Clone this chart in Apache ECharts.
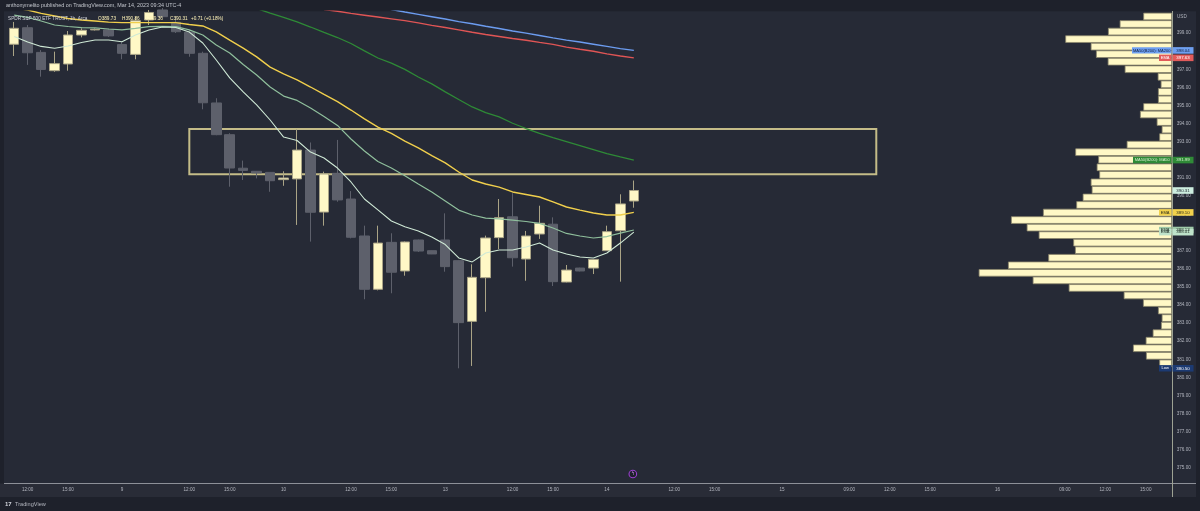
<!DOCTYPE html>
<html lang="en">
<head>
<meta charset="UTF-8">
<title>SPY 1h</title>
<script src="https://cdn.jsdelivr.net/npm/echarts@6/dist/echarts.min.js"></script>
<style>
  html, body { margin: 0; padding: 0; background: #1e212b; }
  #main { width: 1200px; height: 511px; }
</style>
</head>
<body>
<div id="main"></div>
<script>
// time slots on the x axis (1h bars, plus empty future space)
var slotCount = 86;
var tickSlots = [1, 4, 8, 13, 16, 20, 25, 28, 32, 37, 40, 44, 49, 52, 57, 62, 65, 68, 73, 78, 81, 84];
var tickTexts = ['12:00', '15:00', '9', '12:00', '15:00', '10', '12:00', '15:00', '13', '12:00', '15:00',
                 '14', '12:00', '15:00', '15', '09:00', '12:00', '15:00', '16', '09:00', '12:00', '15:00'];
var priceTicks = [375, 376, 377, 378, 379, 380, 381, 382, 383, 384, 385, 386, 387, 388, 389, 390,
                  391, 392, 393, 394, 395, 396, 397, 398, 399];

// SPY 1h candles
var open  = [398.38, 399.29, 397.93, 396.92, 397.29, 398.89, 399.17, 399.17, 398.36, 397.82, 399.72, 400.27,
             399.59, 399.05, 397.88, 395.14, 393.39, 391.54, 391.37, 391.31, 390.91, 390.95, 392.54, 389.12,
             391.26, 389.84, 387.80, 384.86, 387.45, 385.87, 387.58, 386.99, 387.58, 386.44, 383.09, 385.50,
             387.71, 388.86, 386.53, 387.91, 388.45, 385.26, 386.03, 386.03, 386.99, 388.09, 389.73];
var high  = [399.61, 399.44, 398.06, 397.97, 399.11, 399.26, 399.25, 399.25, 398.52, 399.90, 400.27, 400.38,
             399.94, 399.17, 397.97, 395.40, 393.47, 391.96, 391.37, 391.31, 391.37, 393.70, 392.96, 391.35,
             393.10, 390.28, 388.37, 388.37, 387.95, 387.50, 387.60, 387.00, 389.05, 386.46, 386.24, 387.82,
             389.84, 390.16, 388.08, 389.47, 388.83, 386.20, 386.05, 386.52, 388.37, 390.10, 390.86];
var low   = [397.73, 397.24, 396.59, 396.86, 396.92, 398.76, 399.14, 398.78, 397.55, 397.55, 399.44, 399.83,
             399.00, 397.69, 394.79, 393.36, 390.52, 390.89, 390.98, 390.24, 390.57, 388.41, 387.49, 388.37,
             389.69, 387.67, 384.31, 384.80, 384.64, 385.61, 386.92, 386.80, 385.83, 380.50, 380.63, 383.62,
             387.08, 386.11, 385.33, 387.64, 385.04, 385.24, 385.85, 385.70, 386.98, 385.28, 389.36];
var close = [399.26, 397.91, 396.99, 397.31, 398.89, 399.15, 399.20, 398.84, 397.88, 399.68, 400.13, 399.90,
             399.07, 397.88, 395.15, 393.39, 391.55, 391.42, 391.28, 390.85, 391.00, 392.54, 389.11, 391.22,
             389.79, 387.73, 384.86, 387.41, 385.80, 387.47, 386.97, 386.81, 386.11, 383.02, 385.52, 387.69,
             388.81, 386.60, 387.80, 388.50, 385.28, 385.92, 385.87, 386.51, 388.04, 389.57, 390.31];

// moving averages
var emaFast = [398.81, 398.50, 398.26, 398.16, 398.28, 398.48, 398.61, 398.61, 398.52, 398.89, 399.17, 399.33,
               399.30, 399.05, 398.45, 397.51, 396.52, 395.75, 395.03, 394.20, 393.26, 393.07, 392.43, 392.10,
               391.55, 390.78, 389.84, 389.24, 388.63, 388.31, 388.08, 387.75, 387.33, 386.59, 386.37, 386.86,
               387.03, 387.03, 387.19, 387.41, 387.03, 386.81, 386.64, 386.59, 386.86, 387.41, 388.01];
var emaMid  = [399.99, 399.86, 399.66, 399.44, 399.36, 399.30, 399.28, 399.22, 399.17, 399.25, 399.35, 399.36,
               399.35, 399.17, 398.89, 398.34, 397.90, 397.26, 396.68, 396.02, 395.52, 395.28, 394.86, 394.39,
               393.90, 393.15, 392.49, 391.91, 391.55, 391.12, 390.67, 390.23, 389.73, 389.23, 388.96, 388.79,
               388.74, 388.68, 388.60, 388.50, 388.24, 387.94, 387.80, 387.69, 387.77, 387.96, 388.13];
var emaSlow = [400.38, 400.27, 400.08, 399.94, 399.80, 399.72, 399.66, 399.60, 399.57, 399.57, 399.57, 399.57,
               399.57, 399.47, 399.39, 399.06, 398.61, 398.17, 397.68, 397.12, 396.74, 396.41, 396.02, 395.61,
               395.21, 394.75, 394.26, 393.81, 393.46, 393.04, 392.66, 392.24, 391.83, 391.33, 390.89, 390.67,
               390.50, 390.23, 390.09, 389.95, 389.68, 389.40, 389.23, 389.07, 388.96, 388.96, 389.10];
var ma50    = ['-', '-', '-', '-', '-', '-', '-', '-', '-', '-', '-', '-', '-', '-', '-', '-', '-', '-',
               400.35, 400.10, 399.86, 399.61, 399.33, 399.03, 398.75, 398.42, 398.01, 397.62, 397.34, 396.99,
               396.57, 396.19, 395.75, 395.33, 394.92, 394.61, 394.37, 394.02, 393.73, 393.46, 393.23, 393.01,
               392.79, 392.57, 392.35, 392.16, 391.99];
var ma200   = ['-', '-', '-', '-', '-', '-', '-', '-', '-', '-', '-', '-', '-', '-', '-', '-', '-', '-',
               '-', '-', '-', '-', '-', '-', '-', '-', '-',
               400.42, 400.30, 400.16, 400.03, 399.90, 399.77, 399.63, 399.51, 399.37, 399.25, 399.11, 398.99,
               398.86, 398.73, 398.61, 398.50, 398.38, 398.26, 398.14, 398.04];
var emaLong = ['-', '-', '-', '-', '-', '-', '-', '-', '-', '-', '-', '-', '-', '-', '-', '-', '-', '-',
               '-', '-', '-', '-', '-',
               400.30, 400.20, 400.08, 399.98, 399.88, 399.78, 399.68, 399.56, 399.42, 399.30, 399.17, 399.04,
               398.92, 398.81, 398.70, 398.60, 398.48, 398.37, 398.22, 398.10, 397.99, 397.85, 397.73, 397.63];

// supply/demand box
var zoneFrom = 13, zoneTo = 64, zoneTop = 393.70, zoneBottom = 391.21;

// volume profile (rows from top to bottom)
var profileLevels = [399.91, 399.49, 399.08, 398.66, 398.25, 397.83, 397.42, 397.00, 396.59, 396.17, 395.75, 395.34,
                     394.92, 394.51, 394.09, 393.68, 393.26, 392.84, 392.43, 392.01, 391.60, 391.18, 390.77, 390.35,
                     389.93, 389.52, 389.10, 388.69, 388.27, 387.86, 387.44, 387.02, 386.61, 386.19, 385.78, 385.36,
                     384.95, 384.53, 384.11, 383.70, 383.28, 382.87, 382.45, 382.04, 381.62, 381.20, 380.79];
var profileVolume = [28.7, 52.3, 64, 106.7, 81.3, 76, 64.3, 47.3, 14.3, 11.3, 14, 14, 28.7, 32, 15.3, 10.3, 12.7,
                     45.3, 96.7, 73.7, 75.3, 72.7, 81.3, 80.3, 89.3, 95.7, 129, 161, 145.3, 133.3, 98.7, 97,
                     123.7, 164, 193.3, 139.3, 103.3, 48.3, 29, 14, 10.3, 11, 19.3, 26.3, 39, 26, 12.7];

var FONT = "'Liberation Sans', 'DejaVu Sans', sans-serif";
var chart = echarts.init(document.getElementById('main'));

var categories = [];
for (var i = 0; i < slotCount; i++) categories.push(String(i));
var tickMap = {};
tickSlots.forEach(function (s, k) { tickMap[String(s)] = tickTexts[k]; });
var candles = open.map(function (o, i) { return [o, close[i], low[i], high[i]]; });

function maLine(name, data, color, width) {
    return {
        name: name, type: 'line', data: data, xAxisIndex: 0, yAxisIndex: 0,
        showSymbol: false, silent: true, z: 3,
        lineStyle: { color: color, width: width }
    };
}

var option = {
    backgroundColor: '#262a36',
    animation: false,
    grid: [
        { left: 7.47, right: 34.1, top: 11.25, bottom: 27.6 },
        { left: 972, right: 28, top: 12.7, height: 354.4 }
    ],
    xAxis: [
        {
            type: 'category', data: categories, gridIndex: 0, boundaryGap: true,
            axisLine: { show: false }, axisTick: { show: false }, splitLine: { show: false },
            axisLabel: {
                interval: 0, margin: 4, color: '#b2b5be', fontSize: 4.6, fontFamily: FONT,
                formatter: function (v) { return tickMap[v] || ''; }
            }
        },
        { type: 'value', gridIndex: 1, min: 0, max: 200, inverse: true, show: false }
    ],
    yAxis: [
        {
            type: 'value', gridIndex: 0, position: 'right', offset: 6.1, min: 374.15, max: 400.2,
            axisLine: { show: false }, axisTick: { show: false }, splitLine: { show: false },
            axisLabel: {
                customValues: priceTicks, margin: 4.7, color: '#b2b5be', fontSize: 4.6, fontFamily: FONT,
                formatter: function (v) { return v.toFixed(2); }
            }
        },
        { type: 'category', gridIndex: 1, data: profileLevels, inverse: true, show: false }
    ],
    series: [
        {
            name: 'SPY', type: 'candlestick', data: candles, xAxisIndex: 0, yAxisIndex: 0,
            barWidth: 10, silent: true,
            itemStyle: {
                color: '#fff8c6', color0: '#5d606b',
                borderColor: '#aaa486', borderColor0: '#5d606b', borderWidth: 1
            },
            markArea: {
                silent: true,
                itemStyle: { color: 'rgba(0,0,0,0)', borderColor: '#c4bc88', borderWidth: 2 },
                data: [[{ xAxis: String(zoneFrom), yAxis: zoneTop }, { xAxis: String(zoneTo), yAxis: zoneBottom }]]
            }
        },
        maLine('MA200', ma200, '#6c9cf0', 1.4),
        maLine('EMA long', emaLong, '#e05555', 1.4),
        maLine('MA50', ma50, '#2e8a36', 1.3),
        maLine('EMA slow', emaSlow, '#f0cf4c', 1.4),
        maLine('EMA mid', emaMid, '#8fbf9c', 1.2),
        maLine('EMA fast', emaFast, '#cfe9d6', 1.1),
        {
            name: 'Volume profile', type: 'bar', data: profileVolume, xAxisIndex: 1, yAxisIndex: 1,
            barCategoryGap: '0%', silent: true,
            itemStyle: { color: '#fff8c6', borderColor: '#8c876c', borderWidth: 0.8 }
        }
    ]
};
chart.setOption(option);

// price tags on the right scale, taken from the last values
var last = open.length - 1;
var tags = [
    { price: ma200[last], name: 'MA50(B200): MA200', w: 40, bg: '#6e9ff0', fg: '#14213f' },
    { price: emaLong[last], name: 'EMA', w: 13, bg: '#e25b5b', fg: '#ffffff' },
    { price: ma50[last], name: 'MA50(B200): MA50', w: 39, bg: '#2f8a37', fg: '#d8f0d0' },
    { price: close[last], name: '', w: 0, bg: '#cdeee0', fg: '#1e222d' },
    { price: emaSlow[last], name: 'EMA', w: 13, bg: '#f2d24c', fg: '#2a2a1a' },
    { price: emaMid[last], name: 'EMA', w: 13, bg: '#9fcaa9', fg: '#1e2a22' },
    { price: emaFast[last], name: 'EMA', w: 13, bg: '#bfe3ca', fg: '#1e2a22' },
    { price: Math.min.apply(null, low), name: 'Low', w: 13, bg: '#1c3a72', fg: '#ffffff' }
];

var els = [];
function rect(x, y, w, h, fill, z) {
    els.push({ type: 'rect', silent: true, z: z, shape: { x: x, y: y, width: w, height: h }, style: { fill: fill } });
}
function line(x1, y1, x2, y2, stroke, z) {
    els.push({ type: 'line', silent: true, z: z, shape: { x1: x1, y1: y1, x2: x2, y2: y2 }, style: { stroke: stroke, lineWidth: 1 } });
}
function text(x, y, str, size, fill, align, z) {
    els.push({
        type: 'text', silent: true, z: z || 100, x: x, y: y,
        style: { text: str, fontSize: size, fontFamily: FONT, fill: fill, align: align || 'left', verticalAlign: 'middle' }
    });
}

// frame
rect(0, 0, 1200, 11.25, '#1e212b', -5);
rect(0, 11, 4, 473, '#1e212b', -5);
rect(0, 483.5, 1200, 14, '#292c37', -5);
rect(0, 497, 1200, 14, '#1e212b', -5);
rect(1196, 0, 4, 511, '#1e212b', -5);
line(4, 483.5, 1196, 483.5, '#8d9098', 50);
line(1172.5, 11, 1172.5, 497, '#9da293', 50);

// header texts
text(6, 5.8, 'anthonymelito published on TradingView.com, Mar 14, 2023 09:34 UTC-4', 5.4, '#c3c6cd');
text(8, 19, 'SPDR S&P 500 ETF TRUST, 1h, Arca', 4.7, '#d1d4dc');
text(98, 19, 'O389.73', 4.7, '#fff3b8');
text(122, 19, 'H390.86', 4.7, '#fff3b8');
text(146, 19, 'L389.36', 4.7, '#fff3b8');
text(170, 19, 'C390.31', 4.7, '#fff3b8');
text(191, 19, '+0.71 (+0.18%)', 4.7, '#fff3b8');
text(1177, 16.5, 'USD', 4.6, '#b2b5be');

// footer logo
text(5, 504.5, '17', 6, '#d1d4dc');
els[els.length - 1].style.fontWeight = 'bold';
text(15, 504.5, 'TradingView', 5.6, '#b2b5be');

// tags
tags.forEach(function (t) {
    var y = chart.convertToPixel({ yAxisIndex: 0 }, t.price);
    rect(1172.5, y - 3.3, 21, 6.6, t.bg, 90);
    text(1183, y, t.price.toFixed(2), 4.4, t.fg, 'center', 91);
    if (t.w) {
        rect(1172 - t.w, y - 3.2, t.w - 0.5, 6.4, t.bg, 90);
        text(1172 - t.w / 2 - 0.3, y, t.name, 4, t.fg, 'center', 91);
    }
});

// event marker under the last bar
var mx = chart.convertToPixel({ xAxisIndex: 0 }, String(last));
els.push({ type: 'circle', silent: true, z: 60, shape: { cx: mx - 1, cy: 474, r: 3.8 },
           style: { fill: '#1e212b', stroke: '#9b3fd0', lineWidth: 1.1 } });
text(mx - 1, 474, 'ϟ', 4.5, '#c98be6', 'center', 61);

chart.setOption({ graphic: { elements: els } });
</script>
</body>
</html>
